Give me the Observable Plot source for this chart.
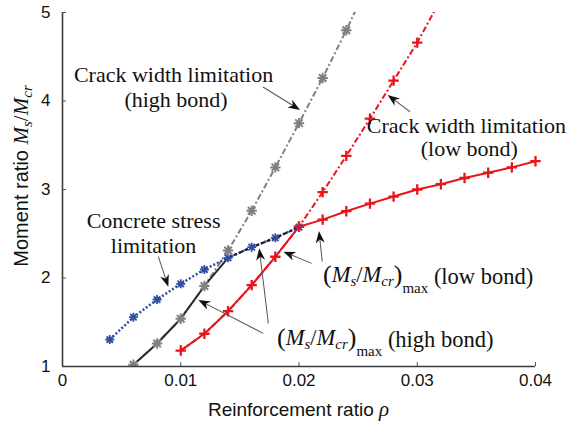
<!DOCTYPE html>
<html><head><meta charset="utf-8">
<script src="https://cdn.jsdelivr.net/npm/d3@7"></script>
<script src="https://cdn.jsdelivr.net/npm/@observablehq/plot@0.6"></script>
<style>body{margin:0;background:#fff}</style>
</head><body><div id="chart"></div>
<script>
// ---- data ----
const xTicks = [0, 0.01, 0.02, 0.03, 0.04];
const yTicks = [1, 2, 3, 4, 5];

// Crack width limitation (high bond) – grey
const rhoGray = [0.006, 0.008, 0.010, 0.012, 0.014, 0.016, 0.018, 0.020, 0.022, 0.024, 0.026];
const msGray  = [1.02, 1.26, 1.54, 1.91, 2.31, 2.76, 3.25, 3.75, 4.26, 4.80, 5.37];

// Concrete stress limitation (high bond) – blue
const rhoBlue = [0.004, 0.006, 0.008, 0.010, 0.012, 0.014, 0.016, 0.018, 0.020];
const msBlue  = [1.305, 1.557, 1.757, 1.934, 2.096, 2.228, 2.348, 2.454, 2.574];

// Crack width limitation (low bond) – red
const rhoRedCrack = [0.010, 0.012, 0.014, 0.016, 0.018, 0.020, 0.022, 0.024, 0.026, 0.028, 0.030, 0.032];
const msRedCrack  = [1.18, 1.37, 1.625, 1.92, 2.24, 2.58, 2.97, 3.38, 3.80, 4.23, 4.66, 5.15];

// Concrete stress limitation (low bond) – red
const rhoRedStress = [0.020, 0.022, 0.024, 0.026, 0.028, 0.030, 0.032, 0.034, 0.036, 0.038, 0.040];
const msRedStress  = [2.58, 2.66, 2.755, 2.84, 2.92, 3.00, 3.06, 3.13, 3.19, 3.25, 3.32];

// plain text annotations
const annText = ["Crack width limitation", "(high bond)", "Crack width limitation", "(low bond)", "Concrete stress", "limitation"];
const annX = [0.00939, 0.00960, 0.03416, 0.03440, 0.0077, 0.0077];
const annY = [4.215, 3.935, 3.644, 3.373, 2.565, 2.285];

// math annotations "(Ms/Mcr)max (...)"
const mathX = [0.02207, 0.01818];
const mathY = [1.949, 1.237];
const mathTail = [" (low bond)", " (high bond)"];

// arrows: tail (x1,y1) -> tip (x2,y2)
const arrX1 = [0.0170, 0.02943, 0.00815, 0.02111, 0.02201, 0.01745, 0.01702];
const arrY1 = [4.153, 3.873, 2.235, 2.160, 2.179, 1.482, 1.369];
const arrX2 = [0.02013, 0.02754, 0.00899, 0.01872, 0.02173, 0.01668, 0.01153];
const arrY2 = [3.893, 4.062, 1.896, 2.292, 2.525, 2.330, 1.746];

// ---- build rows ----
const zip = (xs, ys) => xs.map((x, i) => ({x, y: ys[i]}));
const gray = zip(rhoGray, msGray);
const blue = zip(rhoBlue, msBlue);
const redCrack = zip(rhoRedCrack, msRedCrack);
const redStress = zip(rhoRedStress, msRedStress);
// governing (minimum) envelope for high bond
const highMax = rhoBlue.filter(r => r >= 0.006).map(r => {
  const g = gray.find(d => Math.abs(d.x - r) < 1e-9);
  const b = blue.find(d => Math.abs(d.x - r) < 1e-9);
  return {x: r, y: Math.min(g.y, b.y)};
});
const highSolid = highMax.filter(d => d.x <= 0.0140001);
const highDashed = highMax.filter(d => d.x >= 0.0139999);
const redLow = redCrack.filter(d => d.x <= 0.0200001);
const ann = annText.map((t, i) => ({t, x: annX[i], y: annY[i]}));

const C_RED = "#e8141c", C_BLUE = "#2f4ea6", C_GRAY = "#808080", C_BLACK = "#2a2a2a";

const asterisk = {
  draw(ctx, size) {
    const a = Math.sqrt(size / Math.PI), b = a * 0.72;
    ctx.moveTo(-a, 0); ctx.lineTo(a, 0);
    ctx.moveTo(0, -a); ctx.lineTo(0, a);
    ctx.moveTo(-b, -b); ctx.lineTo(b, b);
    ctx.moveTo(-b, b); ctx.lineTo(b, -b);
  }
};
const plus = {
  draw(ctx, size) {
    const a = Math.sqrt(size / Math.PI);
    ctx.moveTo(-a, 0); ctx.lineTo(a, 0);
    ctx.moveTo(0, -a); ctx.lineTo(0, a);
  }
};

const plot = Plot.plot({
  width: 569, height: 426,
  marginLeft: 62, marginRight: 34, marginTop: 12, marginBottom: 60,
  style: {fontFamily: "'Liberation Sans', Arial, sans-serif", fontSize: "17px", background: "#fff", color: "#111"},
  x: {domain: [0, 0.04], ticks: xTicks, tickSize: 0, tickPadding: 7, label: null,
      tickFormat: d => d === 0 ? "0" : d.toFixed(2)},
  y: {domain: [1, 5], ticks: yTicks, tickSize: 0, tickPadding: 12, label: null, tickFormat: d => String(d)},
  marks: [
    Plot.line(blue, {x: "x", y: "y", stroke: C_BLUE, strokeWidth: 2.5, strokeDasharray: "2,2", strokeLinecap: "butt", clip: true}),
    Plot.line(gray, {x: "x", y: "y", stroke: C_GRAY, strokeWidth: 2, strokeDasharray: "6,2.5,2,2.5", strokeLinecap: "butt", clip: true}),
    Plot.line(redCrack, {x: "x", y: "y", stroke: C_RED, strokeWidth: 2, strokeDasharray: "6,2.5,2,2.5", strokeLinecap: "butt", clip: true}),
    Plot.line(highSolid, {x: "x", y: "y", stroke: C_BLACK, strokeWidth: 2}),
    Plot.line(highDashed, {x: "x", y: "y", stroke: "#1a1a30", strokeWidth: 2, strokeDasharray: "4,2", strokeLinecap: "butt"}),
    Plot.line(redLow, {x: "x", y: "y", stroke: C_RED, strokeWidth: 2}),
    Plot.line(redStress, {x: "x", y: "y", stroke: C_RED, strokeWidth: 2}),
    Plot.dot(blue, {x: "x", y: "y", symbol: asterisk, r: 4.5, fill: "none", stroke: C_BLUE, strokeWidth: 1.8}),
    Plot.dot(gray, {x: "x", y: "y", symbol: asterisk, r: 5.2, fill: "none", stroke: C_GRAY, strokeWidth: 2, clip: true}),
    Plot.dot(redCrack, {x: "x", y: "y", symbol: plus, r: 5.2, fill: "none", stroke: C_RED, strokeWidth: 2.3, clip: true}),
    Plot.dot(redStress, {x: "x", y: "y", symbol: plus, r: 5.2, fill: "none", stroke: C_RED, strokeWidth: 2.3}),
    Plot.ruleX([0], {stroke: "#3a3a3a", strokeWidth: 1.6}),
    Plot.ruleY([1], {stroke: "#3a3a3a", strokeWidth: 1.6}),
    Plot.tickX(xTicks.slice(1), {x: d => d, insetTop: 350, stroke: "#555"}),
    Plot.tickY(yTicks.slice(1), {y: d => d, insetRight: 469, stroke: "#555"}),
    Plot.text(ann, {x: "x", y: "y", text: "t", textAnchor: "middle", lineAnchor: "bottom",
      fontFamily: "'Liberation Serif', serif", fontSize: 22, fill: "#111"})
  ]
});
document.getElementById("chart").append(plot);

// ---- post-processing using the plot's own scales ----
const xs = plot.scale("x"), ys = plot.scale("y");
const sx = d3.scaleLinear(xs.domain, xs.range), sy = d3.scaleLinear(ys.domain, ys.range);
const svg = d3.select(plot);
const SERIF = "'Liberation Serif', serif";

// arrows
const ga = svg.append("g").attr("aria-label", "arrows");
arrX1.forEach((_, i) => {
  const x1 = sx(arrX1[i]), y1 = sy(arrY1[i]), x2 = sx(arrX2[i]), y2 = sy(arrY2[i]);
  const ang = Math.atan2(y2 - y1, x2 - x1) * 180 / Math.PI;
  const len = Math.hypot(x2 - x1, y2 - y1);
  const g = ga.append("g").attr("transform", `translate(${x1},${y1}) rotate(${ang})`);
  g.append("line").attr("x1", 0).attr("y1", 0).attr("x2", len - 7).attr("y2", 0)
    .attr("stroke", "#555").attr("stroke-width", 1);
  g.append("path").attr("d", `M${len},0L${len - 12},-4.5L${len - 8.5},0L${len - 12},4.5Z`).attr("fill", "#111");
});

// math annotations
mathX.forEach((_, i) => {
  const t = svg.append("text").attr("x", sx(mathX[i])).attr("y", sy(mathY[i]))
    .attr("text-anchor", "start")
    .attr("font-family", SERIF).attr("font-size", 22.5).attr("fill", "#111");
  t.append("tspan").attr("font-size", 26).attr("dy", 1).text("(");
  t.append("tspan").attr("font-style", "italic").attr("dy", -1).text("M");
  t.append("tspan").attr("font-style", "italic").attr("font-size", 15).attr("dy", 4).text("s");
  t.append("tspan").attr("dy", -4).text("/");
  t.append("tspan").attr("font-style", "italic").text("M");
  t.append("tspan").attr("font-style", "italic").attr("font-size", 15).attr("dy", 4).text("cr");
  t.append("tspan").attr("font-size", 26).attr("dy", -3).text(")");
  t.append("tspan").attr("font-size", 15).attr("dy", 10).text("max");
  t.append("tspan").attr("dy", -9).text(mathTail[i]);
});

// axis labels
const [r0, r1] = xs.range, [q0, q1] = ys.range;
const xl = svg.append("text").attr("x", (r0 + r1) / 2).attr("y", 416).attr("text-anchor", "middle")
  .attr("font-size", 19).attr("fill", "#111");
xl.append("tspan").text("Reinforcement ratio ");
xl.append("tspan").attr("font-family", SERIF).attr("font-style", "italic").attr("font-size", 21).text("ρ");

const yl = svg.append("text").attr("transform", `translate(28,${(q0 + q1) / 2 - 13}) rotate(-90)`)
  .attr("text-anchor", "middle").attr("font-size", 20).attr("fill", "#111");
yl.append("tspan").text("Moment ratio ");
yl.append("tspan").attr("font-family", SERIF).attr("font-style", "italic").attr("font-size", 21).text("M");
yl.append("tspan").attr("font-family", SERIF).attr("font-style", "italic").attr("font-size", 15).attr("dy", 4).text("s");
yl.append("tspan").attr("font-family", SERIF).attr("font-size", 21).attr("dy", -4).text("/");
yl.append("tspan").attr("font-family", SERIF).attr("font-style", "italic").attr("font-size", 21).text("M");
yl.append("tspan").attr("font-family", SERIF).attr("font-style", "italic").attr("font-size", 15).attr("dy", 4).text("cr");
</script>
</body></html>
